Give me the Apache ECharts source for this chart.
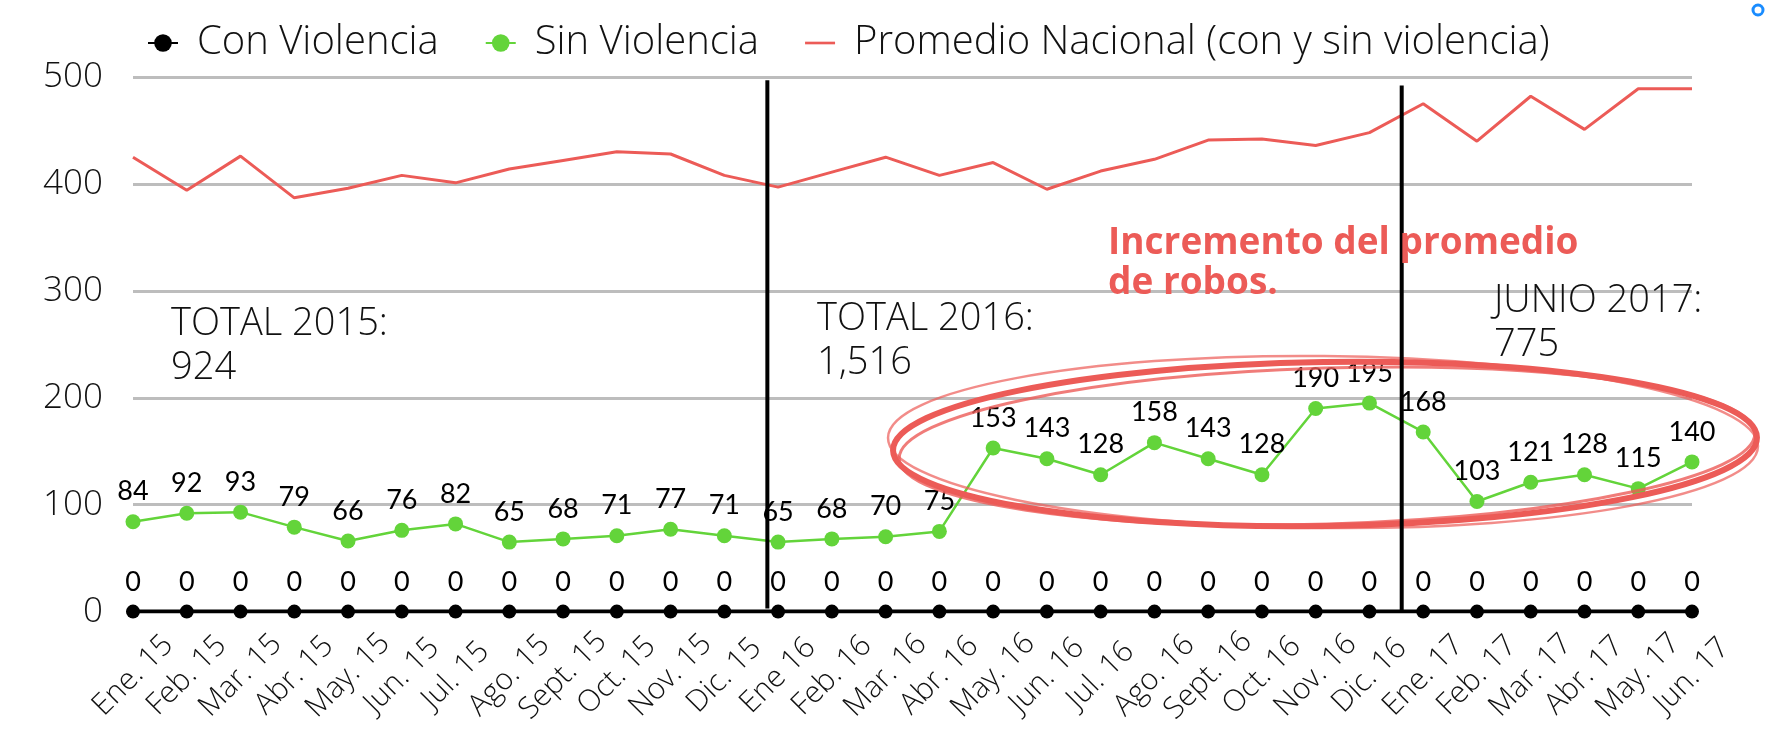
<!DOCTYPE html>
<html>
<head>
<meta charset="utf-8">
<script src="https://cdn.jsdelivr.net/npm/echarts@6/dist/echarts.min.js"></script>
<style>
html, body { margin: 0; padding: 0; background: #fff; }
#chart { width: 1766px; height: 735px; }
</style>
</head>
<body>
<div id="chart"></div>
<script>
var meses = ['Ene. 15', 'Feb. 15', 'Mar. 15', 'Abr. 15', 'May. 15', 'Jun. 15', 'Jul. 15', 'Ago. 15', 'Sept. 15', 'Oct. 15', 'Nov. 15', 'Dic. 15',
    'Ene 16', 'Feb. 16', 'Mar. 16', 'Abr. 16', 'May. 16', 'Jun. 16', 'Jul. 16', 'Ago. 16', 'Sept. 16', 'Oct. 16', 'Nov. 16', 'Dic. 16',
    'Ene. 17', 'Feb. 17', 'Mar. 17', 'Abr. 17', 'May. 17', 'Jun. 17'];
var conViolencia = [0, 0, 0, 0, 0, 0, 0, 0, 0, 0, 0, 0, 0, 0, 0, 0, 0, 0, 0, 0, 0, 0, 0, 0, 0, 0, 0, 0, 0, 0];
var sinViolencia = [84, 92, 93, 79, 66, 76, 82, 65, 68, 71, 77, 71,
    65, 68, 70, 75, 153, 143, 128, 158, 143, 128, 190, 195,
    168, 103, 121, 128, 115, 140];
var promedioNacional = [425, 394, 426, 387, 396, 408, 401, 414, 422, 430, 428, 408,
    397, 411, 425, 408, 420, 395, 412, 423, 441, 442, 436, 448,
    475, 440, 482, 451, 489, 489];
var yTicks = [0, 100, 200, 300, 400, 500];

var thin = '"Open Sans", Lato, sans-serif';
var rojo = '#ec5b57';

var chart = echarts.init(document.getElementById('chart'));

var option = {
    animation: false,
    backgroundColor: '#fff',
    legend: {
        left: 142,
        top: 18,
        itemWidth: 30,
        itemHeight: 22,
        itemGap: 46,
        textStyle: { fontFamily: thin, fontWeight: 300, fontSize: 40, color: '#111', padding: [0, 0, 0, 14] },
        data: [
            'Con Violencia',
            'Sin Violencia',
            { name: 'Promedio Nacional (con y sin violencia)', icon: 'path://M0,0 L34,0 L34,3 L0,3 Z' }
        ]
    },
    grid: { left: 133, right: 74, top: 77, bottom: 123.4 },
    xAxis: {
        type: 'category',
        data: meses,
        boundaryGap: false,
        axisLine: { show: false },
        axisTick: { show: false },
        axisLabel: {
            interval: 0,
            rotate: 45,
            align: 'center',
            verticalAlign: 'middle',
            margin: 64,
            fontFamily: thin,
            fontWeight: 300,
            fontSize: 30,
            color: '#111'
        }
    },
    yAxis: {
        type: 'value',
        min: yTicks[0],
        max: yTicks[yTicks.length - 1],
        interval: 100,
        axisLine: { show: false },
        axisTick: { show: false },
        axisLabel: { margin: 30, fontFamily: thin, fontWeight: 300, fontSize: 35, color: '#111' },
        splitLine: { lineStyle: { color: '#bdbdbd', width: 3 } }
    },
    series: [
        {
            name: 'Con Violencia',
            type: 'line',
            data: conViolencia,
            z: 4,
            symbol: 'circle',
            symbolSize: 14,
            itemStyle: { color: '#000' },
            lineStyle: { color: '#000', width: 4 },
            label: { show: true, position: 'top', distance: 9, fontFamily: 'Lato, sans-serif', fontSize: 27, color: '#000' }
        },
        {
            name: 'Sin Violencia',
            type: 'line',
            data: sinViolencia,
            z: 5,
            symbol: 'circle',
            symbolSize: 15,
            itemStyle: { color: '#63d43a' },
            lineStyle: { color: '#63d43a', width: 2.5 },
            label: { show: true, position: 'top', distance: 9, fontFamily: 'Lato, sans-serif', fontSize: 27, color: '#000' }
        },
        {
            name: 'Promedio Nacional (con y sin violencia)',
            type: 'line',
            data: promedioNacional,
            z: 3,
            symbol: 'none',
            itemStyle: { color: rojo },
            lineStyle: { color: rojo, width: 3 }
        }
    ]
};
chart.setOption(option);

// year dividers placed between the December and January points
function entre(a, b, frac, v) {
    var p1 = chart.convertToPixel({ gridIndex: 0 }, [a, v]);
    var p2 = chart.convertToPixel({ gridIndex: 0 }, [b, v]);
    return [p1[0] + (p2[0] - p1[0]) * frac, p1[1]];
}
var d1Top = entre('Dic. 15', 'Ene 16', 0.8, 497);
var d1Bot = entre('Dic. 15', 'Ene 16', 0.8, 3);
var d2Top = entre('Dic. 16', 'Ene. 17', 0.6, 492);
var d2Bot = entre('Dic. 16', 'Ene. 17', 0.6, 1);

var totalStyle = { fontFamily: thin, fontWeight: 300, fontSize: 38, fill: '#111', lineHeight: 44 };

chart.setOption({
    graphic: [
        { type: 'line', z: 10, shape: { x1: d1Top[0], y1: d1Top[1], x2: d1Bot[0], y2: d1Bot[1] }, style: { stroke: '#000', lineWidth: 4 } },
        { type: 'line', z: 10, shape: { x1: d2Top[0], y1: d2Top[1], x2: d2Bot[0], y2: d2Bot[1] }, style: { stroke: '#000', lineWidth: 4 } },
        { type: 'text', left: 171, top: 302, style: Object.assign({ text: 'TOTAL 2015:\n924' }, totalStyle) },
        { type: 'text', left: 817, top: 297, style: Object.assign({ text: 'TOTAL 2016:\n1,516' }, totalStyle) },
        { type: 'text', left: 1494, top: 279, style: Object.assign({ text: 'JUNIO 2017:\n775' }, totalStyle) },
        {
            type: 'text', left: 1108, top: 223, z: 20,
            style: { text: 'Incremento del promedio\nde robos.', fontFamily: '"Open Sans", Lato, sans-serif', fontWeight: 'bold', fontSize: 37, lineHeight: 40, fill: rojo }
        },
        // hand drawn looking ring around 2016-2017
        { type: 'ellipse', z: 8, rotation: 0.015, originX: 1325, originY: 444, shape: { cx: 1325, cy: 444, rx: 432, ry: 82 }, style: { fill: null, stroke: rojo, lineWidth: 6 } },
        { type: 'ellipse', z: 8, rotation: 0.03, originX: 1327, originY: 446, shape: { cx: 1327, cy: 446, rx: 428, ry: 78 }, style: { fill: null, stroke: rojo, lineWidth: 3, opacity: 0.8 } },
        { type: 'ellipse', z: 8, rotation: -0.01, originX: 1323, originY: 442, shape: { cx: 1323, cy: 442, rx: 435, ry: 86 }, style: { fill: null, stroke: rojo, lineWidth: 2.5, opacity: 0.7 } },
        { type: 'circle', shape: { cx: 1758, cy: 10, r: 5 }, style: { fill: null, stroke: '#1a8cff', lineWidth: 3 } }
    ]
});
</script>
</body>
</html>
